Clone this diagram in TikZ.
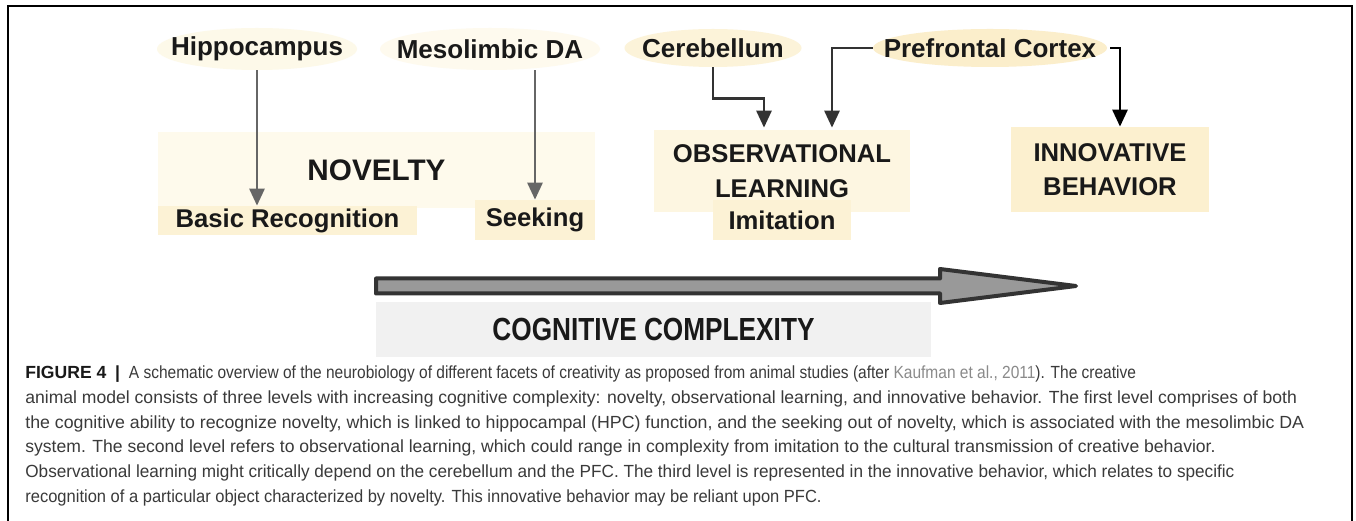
\documentclass[tikz,border=0pt]{standalone}
\usepackage{graphicx}
\usepackage{fontspec}
\setmainfont{Liberation Sans}
\newfontfamily\narrowfont{Liberation Sans}[FakeStretch=0.82]
\usetikzlibrary{arrows.meta,calc,shapes.geometric}

\definecolor{hippofill}{HTML}{FDF9E9}
\definecolor{mesofill}{HTML}{FEFAEE}
\definecolor{cerebfill}{HTML}{FCF3D9}
\definecolor{pfcfill}{HTML}{FBEECB}
\definecolor{novfill}{HTML}{FEFAEC}
\definecolor{subfill}{HTML}{FCF2D5}
\definecolor{obsfill}{HTML}{FDF6E1}
\definecolor{innofill}{HTML}{FCF0CF}
\definecolor{cogfill}{HTML}{F1F1F1}
\definecolor{capgrey}{HTML}{3A3A3A}
\definecolor{refgrey}{HTML}{8A8A8A}

\tikzset{
	region/.style={ellipse, inner xsep=-0.5cm, inner ysep=0pt, text=black!90, font=\fontsize{14.8}{17}\selectfont\bfseries},
	levelbox/.style={rectangle, inner sep=0pt, align=center, text=black!90, font=\fontsize{14.6}{19.6}\selectfont\bfseries},
	captext/.style={anchor=base west, inner sep=0pt, text=capgrey, font=\fontsize{10}{14.1}\selectfont},
	greyarrow/.style={line width=0.55mm, color=black!60, -{Triangle[length=3.4mm, width=3mm]}},
	darkarrow/.style={line width=0.55mm, color=black!80, -{Triangle[length=3.4mm, width=3mm]}},
	blackarrow/.style={line width=0.55mm, color=black, -{Triangle[length=3.4mm, width=3mm]}}
}
\def\capline(#1)(#2:#3)#4{\node[captext] (#1) at (0.5, #2) {\scalebox{#3}[1]{#4}};}

\begin{document}
\begin{tikzpicture}
			%%%%% START %%%%%
			
			\useasboundingbox[fill=white] (0, 0) rectangle (27.12, 10.42);
			\draw[line width=0.4mm] (0.16, 0) -- (0.16, 10.3) -- (27.04, 10.3) -- (27.04, 0);
			
			\node[region, fill=hippofill, minimum width=4cm, minimum height=0.84cm] (hippo) at (5.14, 9.44) {Hippocampus};
			\node[region, fill=mesofill, minimum width=4.4cm, minimum height=0.84cm] (meso) at (9.8, 9.44) {Mesolimbic DA};
			\node[region, fill=cerebfill, minimum width=3.54cm, minimum height=0.76cm] (cereb) at (14.26, 9.46) {Cerebellum};
			\node[region, fill=pfcfill, minimum width=4.68cm, minimum height=0.76cm] (pfc) at (19.8, 9.46) {Prefrontal Cortex};
			
			\node[levelbox, fill=novfill, minimum width=8.74cm, minimum height=1.52cm, font=\fontsize{16.9}{20}\selectfont\bfseries] (novelty) at (7.53, 7.02) {NOVELTY};
			\node[levelbox, fill=subfill, minimum width=5.18cm, minimum height=0.58cm] (basic) at (5.75, 6.01) {Basic Recognition};
			\node[levelbox, fill=subfill, minimum width=2.4cm, minimum height=0.8cm] (seek) at (10.7, 6.02) {Seeking};
			
			\node[levelbox, fill=obsfill, minimum width=5.12cm, minimum height=1.64cm] (obs) at (15.64, 7) {OBSERVATIONAL\\LEARNING};
			\node[levelbox, fill=subfill, minimum width=2.76cm, minimum height=0.8cm] (imit) at (15.64, 6.02) {Imitation};
			
			\node[levelbox, fill=innofill, minimum width=3.96cm, minimum height=1.7cm] (innov) at (22.2, 7.03) {INNOVATIVE\\BEHAVIOR};
			
			\draw[greyarrow] (hippo.south) -- (hippo.south |- basic.north);
			\draw[greyarrow] (seek.north |- meso.south) -- (seek.north);
			
			\draw[darkarrow] (cereb.south) -- ++(0, -0.62) -| ($(obs.north)+(-0.36, 0.04)$);
			\draw[darkarrow] (pfc.west) -| ($(obs.north)+(1, 0.04)$);
			\draw[blackarrow] ([xshift=0.06cm]pfc.east) -| ($(innov.north)+(0.2, 0)$);
			
			\draw[line width=0.8mm, color=black!80, fill=black!40, line join=round] (7.52, 4.55) -- (18.8, 4.55) -- (18.8, 4.36) -- (21.52, 4.7) -- (18.8, 5.04) -- (18.8, 4.85) -- (7.52, 4.85) -- cycle;
			
			\node[fill=cogfill, inner sep=0pt, minimum width=11.1cm, minimum height=1.1cm, text=black!90, font=\narrowfont\bfseries\fontsize{18.2}{20}\selectfont] (cog) at (13.07, 3.83) {COGNITIVE COMPLEXITY};
			
			\node[captext] (cap1) at (0.5, 2.84) {{\color{black!90}\textbf{FIGURE 4}\enspace\textbf{|}}\enspace\scalebox{0.882}[1]{A schematic overview of the neurobiology of different facets of creativity as proposed from animal studies (after {\color{refgrey}Kaufman et al., 2011}). The creative}};
			\capline(cap2)(2.34:1.0){animal model consists of three levels with increasing cognitive complexity: novelty, observational learning, and innovative behavior. The first level comprises of both}
			\capline(cap3)(1.85:1.01){the cognitive ability to recognize novelty, which is linked to hippocampal (HPC) function, and the seeking out of novelty, which is associated with the mesolimbic DA}
			\capline(cap4)(1.36:1.0){system. The second level refers to observational learning, which could range in complexity from imitation to the cultural transmission of creative behavior.}
			\capline(cap5)(0.86:0.977){Observational learning might critically depend on the cerebellum and the PFC. The third level is represented in the innovative behavior, which relates to specific}
			\capline(cap6)(0.36:0.94){recognition of a particular object characterized by novelty. This innovative behavior may be reliant upon PFC.}
			
			%%%%% END %%%%%
		\end{tikzpicture}
\end{document}
